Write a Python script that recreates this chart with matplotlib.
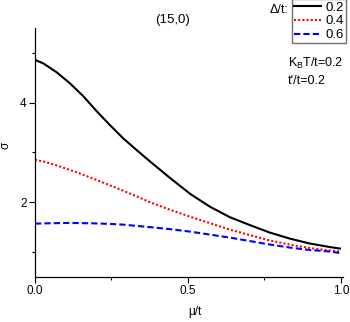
import numpy as np
import matplotlib.pyplot as plt
from matplotlib.ticker import MultipleLocator
from matplotlib.lines import Line2D

plt.rcParams['font.family'] = ['Liberation Sans', 'DejaVu Sans']

# values
mu = [0.0, 0.027, 0.071, 0.114, 0.158, 0.2, 0.245, 0.289, 0.332, 0.376,
      0.441, 0.507, 0.572, 0.637, 0.703, 0.768, 0.833, 0.899, 0.964, 0.997]
sigma_02 = [4.86, 4.79, 4.61, 4.39, 4.13, 3.84, 3.55, 3.28, 3.05, 2.82,
            2.49, 2.17, 1.91, 1.70, 1.54, 1.39, 1.27, 1.17, 1.10, 1.07]
sigma_04 = [2.85, 2.82, 2.74, 2.65, 2.55, 2.45, 2.34, 2.23, 2.12, 2.00,
            1.85, 1.71, 1.58, 1.45, 1.34, 1.23, 1.15, 1.08, 1.03, 1.01]
sigma_06 = [1.57, 1.575, 1.58, 1.585, 1.58, 1.575, 1.565, 1.55, 1.525, 1.50,
            1.46, 1.41, 1.35, 1.29, 1.22, 1.15, 1.09, 1.04, 1.01, 0.98]
labels = ['0.2', '0.4', '0.6']

fig = plt.figure(figsize=(3.5, 3.22), dpi=100)
ax = fig.add_axes([0.1, 0.14, 0.88, 0.773])

ax.plot(mu, sigma_02, color='black', lw=1.5, ls='-')
ax.plot(mu, sigma_04, color='red', lw=1.5, ls=(0, (1, 1)))
ax.plot(mu, sigma_06, color='blue', lw=1.5, ls=(0, (3, 1.5)))

ax.set_xlim(0, 1.007)
ax.set_ylim(0.5, 5.5)
ax.xaxis.set_major_locator(MultipleLocator(0.5))
ax.xaxis.set_minor_locator(MultipleLocator(0.25))
ax.yaxis.set_major_locator(MultipleLocator(2))
ax.yaxis.set_minor_locator(MultipleLocator(1))
ax.xaxis.set_major_formatter(lambda v, p: f'{v:.1f}')
ax.tick_params(which='major', length=4, width=0.8, labelsize=8.5, pad=2)
ax.tick_params(which='minor', length=2.5, width=0.8)
for s in ['top', 'right']:
    ax.spines[s].set_visible(False)
for s in ['left', 'bottom']:
    ax.spines[s].set_linewidth(0.9)

ax.set_xlabel('μ/t', fontsize=8.5)
ax.xaxis.set_label_coords(0.52, -0.115)
ax.set_ylabel('σ', fontsize=8.5)
ax.yaxis.set_label_coords(-0.075, 0.53)

fig.text(0.494, 0.938, '(15,0)', fontsize=9.5, ha='center', va='center')

handles = [Line2D([], [], color='black', lw=1.5, ls='-'),
           Line2D([], [], color='red', lw=1.5, ls=(0, (1, 1))),
           Line2D([], [], color='blue', lw=1.5, ls=(0, (3, 1.5)))]
leg = fig.legend(handles, labels, loc='upper right', bbox_to_anchor=(0.988, 1.002),
                 fontsize=9.5, handlelength=2.1, handletextpad=0.3, labelspacing=0.12,
                 borderpad=0.15, borderaxespad=0, fancybox=False, framealpha=1)
leg.get_frame().set_edgecolor('#707070')
leg.get_frame().set_linewidth(1.0)
fig.text(0.823, 0.968, 'Δ/t:', fontsize=9, ha='right', va='center')

fig.text(0.823, 0.804, r'K$_\mathregular{B}$T/t=0.2', fontsize=9, ha='left', va='center')
fig.text(0.823, 0.748, "t'/t=0.2", fontsize=9, ha='left', va='center')

fig.savefig('out.png', dpi=100)
